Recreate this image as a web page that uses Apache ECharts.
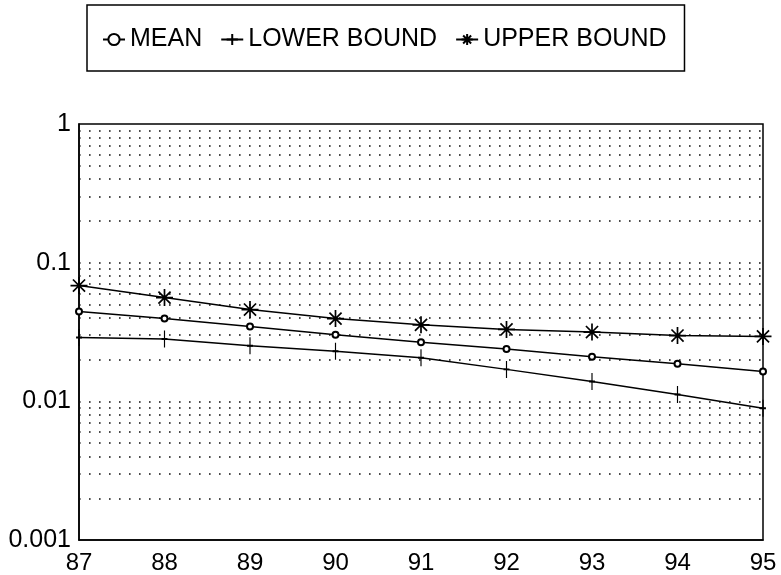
<!DOCTYPE html>
<html>
<head>
<meta charset="utf-8">
<script src="https://cdn.jsdelivr.net/npm/echarts@6/dist/echarts.min.js"></script>
<style>html,body{margin:0;padding:0;background:#fff;}#c{width:781px;height:575px;}</style>
</head>
<body>
<div id="c"></div>
<script>
var years = ['87','88','89','90','91','92','93','94','95'];
var meanValues  = [0.0444,0.0395,0.0346,0.0302,0.0267,0.0238,0.0210,0.0187,0.0164];
var lowerValues = [0.0289,0.0282,0.0252,0.0230,0.0206,0.0170,0.0139,0.0112,0.0089];
var upperValues = [0.0684,0.0560,0.0459,0.0395,0.0356,0.0330,0.0316,0.0298,0.0294];
var yTickLabels = {1:'1',0.1:'0.1',0.01:'0.01',0.001:'0.001'};
var gridValues = [0.002,0.003,0.004,0.005,0.006,0.007,0.008,0.009,0.01,
                  0.02,0.03,0.04,0.05,0.06,0.07,0.08,0.09,0.1,
                  0.2,0.3,0.4,0.5,0.6,0.7,0.8,0.9];

var FONT = '"Liberation Sans", Arial, sans-serif';
var plusPath = 'path://M0,8.5L10,8.5M5,0L5,17';
var starPath = 'path://M8,0L8,16M0,8L16,8M2.3,2.3L13.7,13.7M13.7,2.3L2.3,13.7';

var chart = echarts.init(document.getElementById('c'), null, {renderer:'canvas'});
chart.setOption({
  backgroundColor:'#fff',
  animation:false,
  legend:{
    left:87, top:5,
    padding:[22,18,19,15],
    borderColor:'#000', borderWidth:1.5,
    itemGap:18, itemWidth:22, itemHeight:14,
    textStyle:{fontFamily:FONT, fontSize:25, color:'#000'},
    data:['MEAN','LOWER BOUND','UPPER BOUND']
  },
  grid:{left:79, right:18, top:124, bottom:34, show:true, borderColor:'#000', borderWidth:1.5, backgroundColor:'transparent'},
  xAxis:{
    type:'category', data:years, boundaryGap:false,
    axisLine:{show:true, lineStyle:{color:'#000', width:1.5}},
    axisTick:{show:false},
    axisLabel:{fontFamily:FONT, fontSize:24, color:'#000', margin:11},
    splitLine:{show:false}
  },
  yAxis:{
    type:'log', logBase:10, min:0.001, max:1,
    axisLine:{show:true, lineStyle:{color:'#000', width:1.5}},
    axisTick:{show:false},
    axisLabel:{fontFamily:FONT, fontSize:25, color:'#000', margin:8, padding:[5,0,0,0],
      formatter:function(v){ var k = Object.keys(yTickLabels).find(function(x){return Math.abs(x-v)/v<1e-6;}); return k? yTickLabels[k] : ''; }},
    splitLine:{show:false}
  },
  series:[
    {
      name:'GRID', type:'line', data:[], silent:true, z:1,
      markLine:{
        silent:true, symbol:['none','none'], label:{show:false},
        lineStyle:{color:'#111', width:1.6, type:[1.6,8.4]},
        emphasis:{disabled:true},
        data:gridValues.map(function(v){return [{coord:[years[0], v]},{coord:[years[years.length-1], v]}];})
      }
    },
    {
      name:'MEAN', type:'line', data:meanValues, color:'#000', z:5,
      symbol:'emptyCircle', symbolSize:6, showAllSymbol:true,
      lineStyle:{color:'#000', width:1.5},
      itemStyle:{color:'#000', borderColor:'#000', borderWidth:1.2}
    },
    {
      name:'LOWER BOUND', type:'line', data:lowerValues, color:'#000', z:5,
      symbol:plusPath, symbolSize:[10,17], symbolKeepAspect:true, showAllSymbol:true,
      lineStyle:{color:'#000', width:1.5},
      itemStyle:{color:'#000', borderColor:'#000', borderWidth:1.5}
    },
    {
      name:'UPPER BOUND', type:'line', data:upperValues, color:'#000', z:5,
      symbol:starPath, symbolSize:17, symbolKeepAspect:true, showAllSymbol:true,
      lineStyle:{color:'#000', width:1.5},
      itemStyle:{color:'#000', borderColor:'#000', borderWidth:1.7}
    }
  ]
});
</script>
</body>
</html>
